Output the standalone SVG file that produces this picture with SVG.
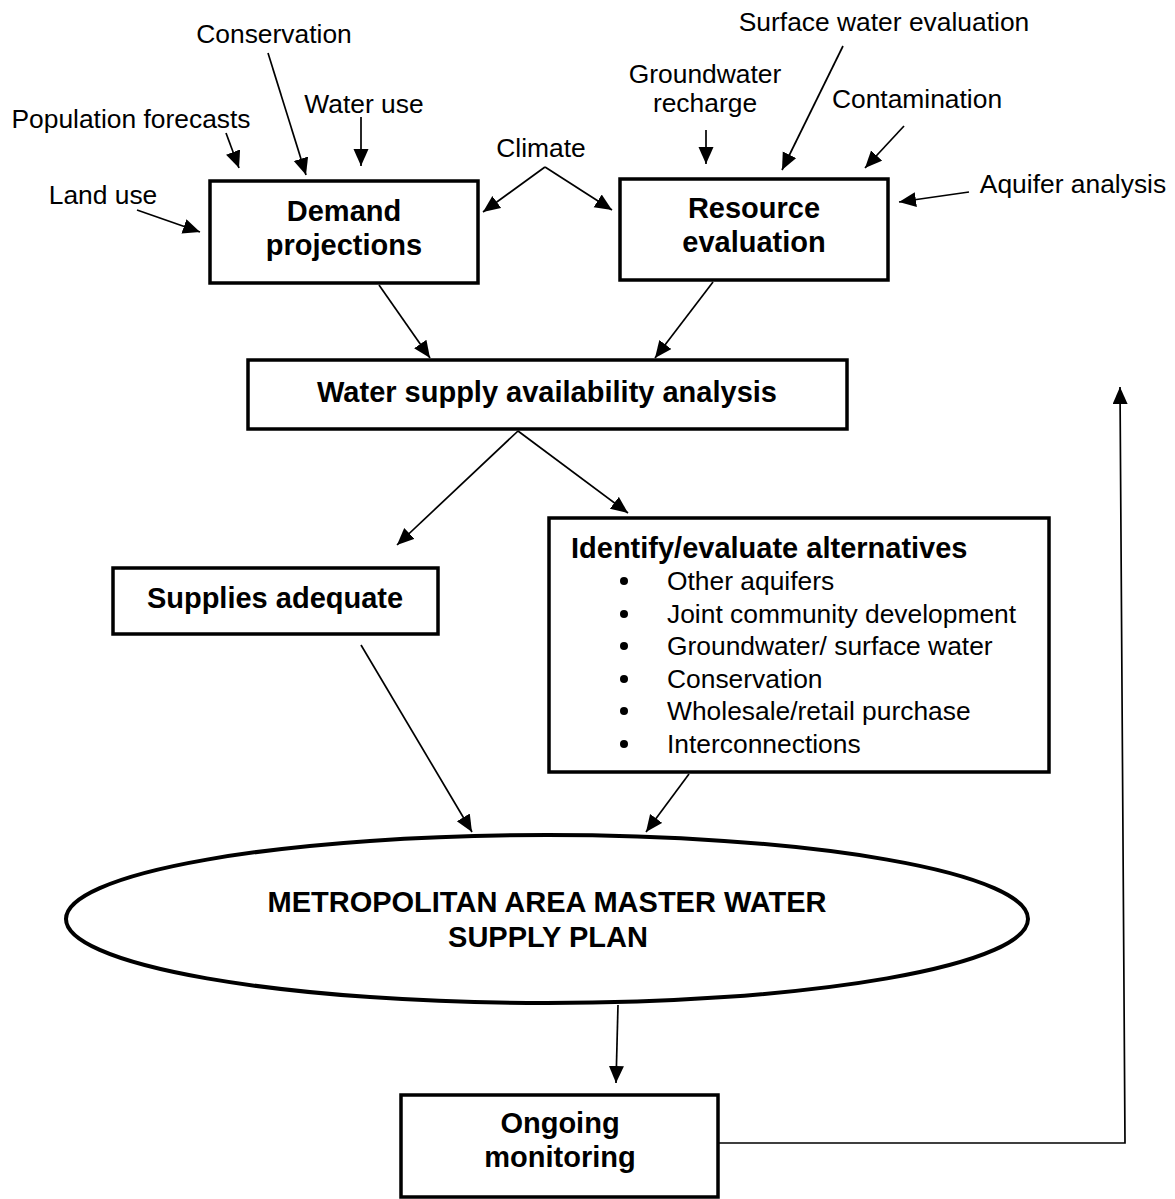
<svg xmlns="http://www.w3.org/2000/svg" width="1175" height="1199" viewBox="0 0 1175 1199">
<defs>
<marker id="ah" markerUnits="userSpaceOnUse" markerWidth="18" markerHeight="16" refX="17" refY="7.5" orient="auto">
<path d="M0,0 L17,7.5 L0,15 z" fill="#000"/>
</marker>
<style>
.box{fill:#fff;stroke:#000;stroke-width:3.5}
.lbl{font-family:"Liberation Sans",Arial,sans-serif;font-size:26.4px;fill:#000}
.b{font-family:"Liberation Sans",Arial,sans-serif;font-size:29px;font-weight:bold;fill:#000}
.c{text-anchor:middle}
.ln{stroke:#000;stroke-width:1.7;fill:none;marker-end:url(#ah)}
</style>
</defs>
<rect width="1175" height="1199" fill="#fff"/>

<g id="inputs">
<text class="lbl c" x="274" y="43">Conservation</text>
<text class="lbl c" x="364" y="113">Water use</text>
<text class="lbl c" x="131" y="128">Population forecasts</text>
<text class="lbl c" x="103" y="204">Land use</text>
<text class="lbl c" x="541" y="157">Climate</text>
<text class="lbl c" x="884" y="31">Surface water evaluation</text>
<text class="lbl c" x="705" y="83">Groundwater</text>
<text class="lbl c" x="705" y="112">recharge</text>
<text class="lbl c" x="917" y="108">Contamination</text>
<text class="lbl c" x="1073" y="193">Aquifer analysis</text>
</g>

<g id="demand">
<rect class="box" x="210" y="181" width="268" height="102"/>
<text class="b c" x="344" y="221">Demand</text>
<text class="b c" x="344" y="255">projections</text>
</g>

<g id="resource">
<rect class="box" x="620" y="179" width="268" height="101"/>
<text class="b c" x="754" y="218">Resource</text>
<text class="b c" x="754" y="252">evaluation</text>
</g>

<g id="availability">
<rect class="box" x="248" y="360" width="599" height="69"/>
<text class="b c" x="547" y="402">Water supply availability analysis</text>
</g>

<g id="adequate">
<rect class="box" x="113" y="568" width="325" height="66"/>
<text class="b c" x="275" y="608">Supplies adequate</text>
</g>

<g id="alternatives">
<rect class="box" x="549" y="518" width="500" height="254"/>
<text class="b" x="571" y="558">Identify/evaluate alternatives</text>
<g fill="#000">
<circle cx="624" cy="581" r="4"/>
<circle cx="624" cy="614" r="4"/>
<circle cx="624" cy="646" r="4"/>
<circle cx="624" cy="679" r="4"/>
<circle cx="624" cy="711" r="4"/>
<circle cx="624" cy="744" r="4"/>
</g>
<text class="lbl" x="667" y="590">Other aquifers</text>
<text class="lbl" x="667" y="623">Joint community development</text>
<text class="lbl" x="667" y="655">Groundwater/ surface water</text>
<text class="lbl" x="667" y="688">Conservation</text>
<text class="lbl" x="667" y="720">Wholesale/retail purchase</text>
<text class="lbl" x="667" y="753">Interconnections</text>
</g>

<g id="plan">
<ellipse cx="547" cy="919" rx="481" ry="84" fill="#fff" stroke="#000" stroke-width="4"/>
<text class="b c" x="547" y="912">METROPOLITAN AREA MASTER WATER</text>
<text class="b c" x="548" y="947">SUPPLY PLAN</text>
</g>

<g id="monitoring">
<rect class="box" x="401" y="1095" width="317" height="102"/>
<text class="b c" x="560" y="1133">Ongoing</text>
<text class="b c" x="560" y="1167">monitoring</text>
</g>

<g id="connectors">
<line class="ln" x1="226" y1="133" x2="239" y2="168"/>
<line class="ln" x1="268" y1="53" x2="306" y2="175"/>
<line class="ln" x1="361" y1="117" x2="361" y2="166"/>
<line class="ln" x1="137" y1="210" x2="200" y2="232"/>
<line class="ln" x1="545" y1="167" x2="483" y2="212"/>
<line class="ln" x1="545" y1="167" x2="612" y2="210"/>
<line class="ln" x1="706" y1="130" x2="706" y2="164"/>
<line class="ln" x1="843" y1="46" x2="782" y2="170"/>
<line class="ln" x1="904" y1="126" x2="865" y2="168"/>
<line class="ln" x1="969" y1="192" x2="899" y2="202"/>
<line class="ln" x1="379" y1="285" x2="430" y2="358"/>
<line class="ln" x1="713" y1="282" x2="655" y2="358"/>
<line class="ln" x1="518" y1="431" x2="397" y2="545"/>
<line class="ln" x1="518" y1="431" x2="628" y2="513"/>
<line class="ln" x1="361" y1="645" x2="472" y2="832"/>
<line class="ln" x1="689" y1="774" x2="646" y2="832"/>
<line class="ln" x1="618" y1="1005" x2="616" y2="1083"/>
<path class="ln" d="M718,1143 L1125,1143 L1120,387"/>
</g>
</svg>
